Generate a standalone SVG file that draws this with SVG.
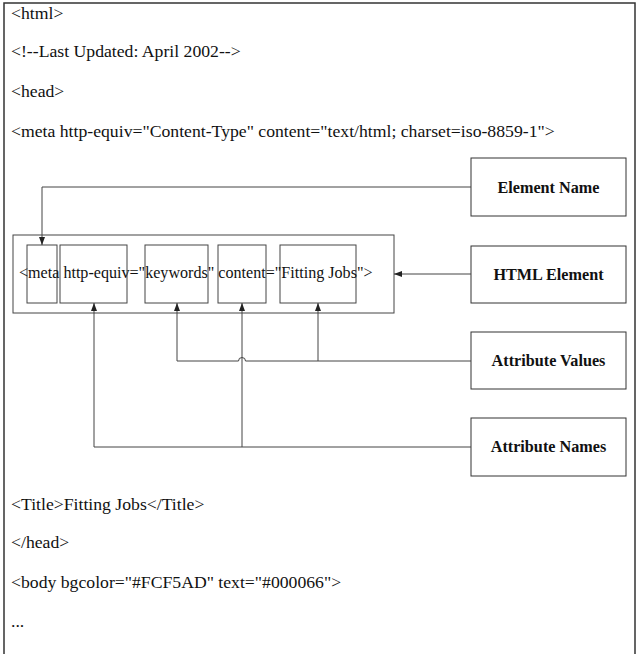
<svg xmlns="http://www.w3.org/2000/svg" width="643" height="654" viewBox="0 0 643 654">
<style>
.code{font-family:"Liberation Serif","Times New Roman",serif;font-size:17.7px;fill:#111}
.inl{font-family:"Liberation Serif","Times New Roman",serif;font-size:16.1px;fill:#111}
.lbl{font-family:"Liberation Serif","Times New Roman",serif;font-size:16.2px;font-weight:bold;fill:#111;text-anchor:middle}
.box{fill:#fff;stroke:#333;stroke-width:1}
.ibox{fill:none;stroke:#444;stroke-width:1}
.ln{fill:none;stroke:#444;stroke-width:1}
</style>
<defs>
<marker id="ah" viewBox="0 0 8 6" refX="8" refY="3" markerWidth="8" markerHeight="6" orient="auto" markerUnits="userSpaceOnUse">
<path d="M0,0 L8,3 L0,6 Z" fill="#222"/>
</marker>
</defs>
<rect x="0" y="0" width="643" height="654" fill="#fff"/>
<path d="M4,660 L4,3 L635,3 L635,660" fill="none" stroke="#333" stroke-width="1.5"/>
<g id="code-top">
<text class="code" x="11" y="19">&lt;html&gt;</text>
<text class="code" x="11" y="57">&lt;!--Last Updated: April 2002--&gt;</text>
<text class="code" x="11" y="97">&lt;head&gt;</text>
<text class="code" x="11" y="137">&lt;meta http-equiv="Content-Type" content="text/html; charset=iso-8859-1"&gt;</text>
</g>
<g id="html-element-row">
<rect class="ibox" x="13" y="235" width="381" height="78"/>
<rect class="ibox" x="27" y="245" width="30" height="58"/>
<rect class="ibox" x="60" y="245" width="67" height="58"/>
<rect class="ibox" x="145" y="245" width="63" height="58"/>
<rect class="ibox" x="218" y="245" width="48" height="58"/>
<rect class="ibox" x="280" y="245" width="76" height="58"/>
<text class="inl" x="19" y="278">&lt;meta http-equiv="keywords" content="Fitting Jobs"&gt;</text>
</g>
<g id="element-name">
<rect class="box" x="471" y="158" width="155" height="58"/>
<text class="lbl" x="548.5" y="193">Element Name</text>
</g>
<g id="html-element">
<rect class="box" x="471" y="246" width="155" height="57"/>
<text class="lbl" x="548.5" y="280">HTML Element</text>
</g>
<g id="attribute-values">
<rect class="box" x="471" y="332" width="155" height="57"/>
<text class="lbl" x="548.5" y="366">Attribute Values</text>
</g>
<g id="attribute-names">
<rect class="box" x="471" y="418" width="155" height="58"/>
<text class="lbl" x="548.5" y="452">Attribute Names</text>
</g>
<g id="connectors">
<path class="ln" d="M471,187 L42,187 L42,245" marker-end="url(#ah)"/>
<path class="ln" d="M471,274 L394,274" marker-end="url(#ah)"/>
<path class="ln" d="M471,361 L245.5,361 A3.5,3.5 0 0 0 238.5,361 L177,361 L177,303" marker-end="url(#ah)"/>
<path class="ln" d="M318,361 L318,303" marker-end="url(#ah)"/>
<path class="ln" d="M471,447 L94,447 L94,303" marker-end="url(#ah)"/>
<path class="ln" d="M242,447 L242,303" marker-end="url(#ah)"/>
</g>
<g id="code-bottom">
<text class="code" x="11" y="510">&lt;Title&gt;Fitting Jobs&lt;/Title&gt;</text>
<text class="code" x="11" y="548">&lt;/head&gt;</text>
<text class="code" x="11" y="588">&lt;body bgcolor="#FCF5AD" text="#000066"&gt;</text>
<text class="code" x="11" y="627">...</text>
</g>
</svg>
